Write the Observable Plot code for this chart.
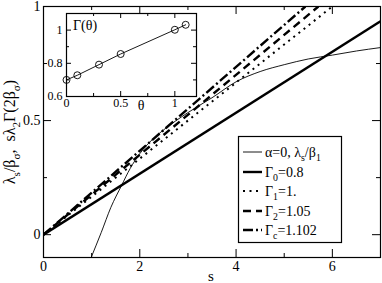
<!DOCTYPE html>
<html><head><meta charset="utf-8">
<script src="https://cdn.jsdelivr.net/npm/d3@7"></script>
<script src="https://cdn.jsdelivr.net/npm/@observablehq/plot@0.6"></script>
<style>
html,body{margin:0;padding:0;background:white;}
#chart{position:relative;width:382px;height:283px;}
#inset{position:absolute;left:40px;top:11px;}
svg text{font-family:"Liberation Serif","Times New Roman",serif;}
</style></head><body><div id="chart"><div id="main"></div><div id="inset"></div></div>
<script>
// ---- data ----
const lineNames = ["Γ0=0.8", "Γ1=1.", "Γ2=1.05", "Γc=1.102"];
const lineS = [[0, 7], [0, 6.0], [0, 5.71], [0, 5.44]];
const lineY = [[0, 0.935], [0, 1.0], [0, 1.0], [0, 1.0]];
const curveS = [0.99, 1.2, 1.4, 1.62, 1.8, 2.0, 2.25, 2.5, 3.0, 3.5, 4.0, 4.5, 5.0, 5.5, 6.0, 6.5, 7.0];
const curveY = [-0.1, 0.01, 0.12, 0.215, 0.29, 0.355, 0.415, 0.46, 0.535, 0.6, 0.67, 0.715, 0.745, 0.77, 0.787, 0.805, 0.82];
const thetaVals = [0, 0.1, 0.3, 0.5, 1.0, 1.1];
const gammaVals = [0.70, 0.728, 0.792, 0.856, 1.002, 1.032];
const xTicks = [0, 2, 4, 6], xMinor = [1, 3, 5];
const yTicks = [0, 0.5, 1], yMinor = [0.25, 0.75];
const insetXTicks = [0, 0.5, 1], insetXMinor = [0.25, 0.75];
const insetYTicks = [0.6, 0.8, 1], insetYMinor = [0.7, 0.9];

// ---- styles ----
const lineStyles = [
  {strokeWidth: 2.4, dash: null},
  {strokeWidth: 2, dash: "2,4.5"},
  {strokeWidth: 2.4, dash: "8,5"},
  {strokeWidth: 2.4, dash: "10,3,2,3"}
];
const FONT = "'Liberation Serif', 'Times New Roman', serif";

function ticksFor(plotW, plotH, xs, ys, len) {
  return [
    Plot.tickX(xs, {x: d => d, insetTop: plotH - len, stroke: "black"}),
    Plot.tickX(xs, {x: d => d, insetBottom: plotH - len, stroke: "black"}),
    Plot.tickY(ys, {y: d => d, insetRight: plotW - len, stroke: "black"}),
    Plot.tickY(ys, {y: d => d, insetLeft: plotW - len, stroke: "black"})
  ];
}

// ---- main chart ----
const W = 382, H = 283, mL = 43, mR = 2, mT = 6, mB = 26;
const pW = W - mL - mR, pH = H - mT - mB;
const lineMarks = lineS.map((ss, i) => Plot.line(ss.map((s, j) => ({s, y: lineY[i][j]})), {
  x: "s", y: "y", stroke: "black", strokeWidth: lineStyles[i].strokeWidth,
  strokeDasharray: lineStyles[i].dash, strokeLinecap: "butt", clip: true
}));
const curveData = curveS.map((s, i) => ({s, y: curveY[i]}));

const main = Plot.plot({
  width: W, height: H, marginLeft: mL, marginRight: mR, marginTop: mT, marginBottom: mB,
  style: {fontFamily: FONT, background: "white", color: "black"},
  x: {domain: [0, 7]},
  y: {domain: [-0.1, 1]},
  marks: [
    Plot.line(curveData, {x: "s", y: "y", stroke: "black", strokeWidth: 0.9, curve: "monotone-x", clip: true}),
    ...lineMarks,
    ...ticksFor(pW, pH, xTicks, yTicks, 8),
    ...ticksFor(pW, pH, xMinor, yMinor, 4),
    Plot.frame({stroke: "black", strokeWidth: 1.2}),
    Plot.axisX(xTicks, {tickSize: 0, tickPadding: 4, fontSize: 14, fontFamily: FONT, tickFormat: d => String(d), label: null}),
    Plot.axisY(yTicks, {tickSize: 0, tickPadding: 3, fontSize: 14, fontFamily: FONT, tickFormat: d => String(d), label: null})
  ]
});
document.getElementById("main").appendChild(main);

function rich(textSel, parts, size) {
  let shifted = false;
  const sh = size * 0.3;
  parts.forEach(([t, sub]) => {
    const ts = textSel.append("tspan").text(t);
    if (sub) {
      ts.attr("font-size", size * 0.7);
      if (!shifted) { ts.attr("dy", sh); shifted = true; }
    } else if (shifted) { ts.attr("dy", -sh); shifted = false; }
  });
}
function addText(sel, x, y, size, anchor) {
  return sel.append("text").attr("x", x).attr("y", y).attr("text-anchor", anchor)
    .attr("font-family", FONT).attr("font-size", size).attr("fill", "black");
}

const svg = d3.select(main);
addText(svg, 211, 281, 15, "middle").text("s");
const yl = svg.append("text").attr("transform", "translate(15,132) rotate(-90)")
  .attr("text-anchor", "middle").attr("font-family", FONT).attr("font-size", 16).attr("fill", "black");
rich(yl, [["λ"], ["s", 1], ["/β"], ["σ", 1], [",  sλ"], ["2", 1], ["Γ(2β"], ["σ", 1], [")"]], 16);

// legend
const legendLabels = [
  [["α=0, λ"], ["s", 1], ["/β"], ["1", 1]],
  [["Γ"], ["0", 1], ["=0.8"]],
  [["Γ"], ["1", 1], ["=1."]],
  [["Γ"], ["2", 1], ["=1.05"]],
  [["Γ"], ["c", 1], ["=1.102"]]
];
const legStyles = [{w: 0.9, dash: null}, ...lineStyles.map(s => ({w: s.strokeWidth, dash: s.dash}))];
const lg = svg.append("g");
lg.append("rect").attr("x", 238.5).attr("y", 136.5).attr("width", 103).attr("height", 106)
  .attr("fill", "white").attr("stroke", "black").attr("stroke-width", 1.2);
const rowY = [152, 172, 191, 211, 230];
legendLabels.forEach((parts, i) => {
  const y = rowY[i];
  lg.append("line").attr("x1", 243).attr("x2", 262).attr("y1", y).attr("y2", y)
    .attr("stroke", "black").attr("stroke-width", legStyles[i].w)
    .attr("stroke-dasharray", legStyles[i].dash);
  rich(addText(lg, 265, y + 5, 14, "start"), parts, 14);
});

// ---- inset chart ----
const iW = 160, iH = 103, imL = 26, imR = 4, imT = 2, imB = 18;
const ipW = iW - imL - imR, ipH = iH - imT - imB;
const insetData = thetaVals.map((t, i) => ({t, g: gammaVals[i]}));
const inset = Plot.plot({
  width: iW, height: iH, marginLeft: imL, marginRight: imR, marginTop: imT, marginBottom: imB,
  style: {fontFamily: FONT, background: "transparent", color: "black"},
  x: {domain: [0, 1.2]},
  y: {domain: [0.6, 1.1]},
  marks: [
    Plot.line(insetData, {x: "t", y: "g", stroke: "black", strokeWidth: 0.9}),
    Plot.dot(insetData, {x: "t", y: "g", r: 3.5, stroke: "black", strokeWidth: 0.9, fill: "none"}),
    ...ticksFor(ipW, ipH, insetXTicks, insetYTicks, 5),
    ...ticksFor(ipW, ipH, insetXMinor, insetYMinor, 3),
    Plot.frame({stroke: "black", strokeWidth: 1.2}),
    Plot.axisX(insetXTicks, {tickSize: 0, tickPadding: 2, fontSize: 12, fontFamily: FONT, tickFormat: d => String(d), label: null}),
    Plot.axisY(insetYTicks, {tickSize: 0, tickPadding: 4, fontSize: 12, fontFamily: FONT, tickFormat: d => String(d), label: null})
  ]
});
document.getElementById("inset").appendChild(inset);
const isvg = d3.select(inset);
addText(isvg, 33, 19, 14, "start").text("Γ(θ)");
addText(isvg, 101, 99, 14, "middle").text("θ");
</script></body></html>
